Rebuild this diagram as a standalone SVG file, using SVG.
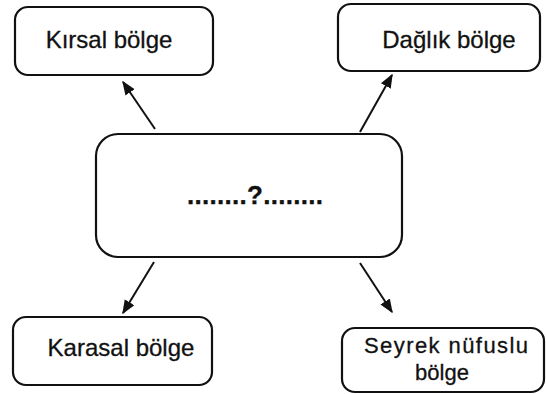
<svg xmlns="http://www.w3.org/2000/svg" width="546" height="394" viewBox="0 0 546 394">
<style>
.box{fill:#fff;stroke:#111;stroke-width:2.2}
.lbl{font-family:"Liberation Sans",Arial,sans-serif;font-size:24px;fill:#111;text-anchor:middle;stroke:#111;stroke-width:0.3}
.sm{font-size:22px}
.q{font-size:26px;font-weight:bold}
.con{stroke:#111;stroke-width:2;fill:none;marker-end:url(#ah)}
</style>
<defs>
<marker id="ah" viewBox="0 0 10 10" refX="9" refY="5" markerWidth="7" markerHeight="7" orient="auto" markerUnits="strokeWidth">
<path d="M0,1 L10,5 L0,9 Z" fill="#111"/>
</marker>
</defs>
<rect width="546" height="394" fill="#fff"/>
<g id="connectors">
<line class="con" x1="155" y1="129" x2="123" y2="82"/>
<line class="con" x1="360" y1="132" x2="392" y2="75"/>
<line class="con" x1="154" y1="262" x2="123" y2="313"/>
<line class="con" x1="360" y1="263" x2="392" y2="312"/>
</g>
<g id="center">
<rect class="box" x="96" y="134" width="306" height="123" rx="22"/>
<text class="lbl q" x="255" y="204" textLength="136" lengthAdjust="spacing">........?........</text>
</g>
<g id="kirsal">
<rect class="box" x="15" y="7" width="198" height="68" rx="13"/>
<text class="lbl" x="109" y="48">Kırsal bölge</text>
</g>
<g id="daglik">
<rect class="box" x="338" y="4" width="202" height="67" rx="13"/>
<text class="lbl" x="449" y="48">Dağlık bölge</text>
</g>
<g id="karasal">
<rect class="box" x="13" y="317" width="199" height="68" rx="13"/>
<text class="lbl" x="121" y="356">Karasal bölge</text>
</g>
<g id="seyrek">
<rect class="box" x="342" y="328" width="202" height="64" rx="13"/>
<text class="lbl sm" x="446" y="353" textLength="164" lengthAdjust="spacing">Seyrek nüfuslu</text>
<text class="lbl sm" x="442" y="380">bölge</text>
</g>
</svg>
